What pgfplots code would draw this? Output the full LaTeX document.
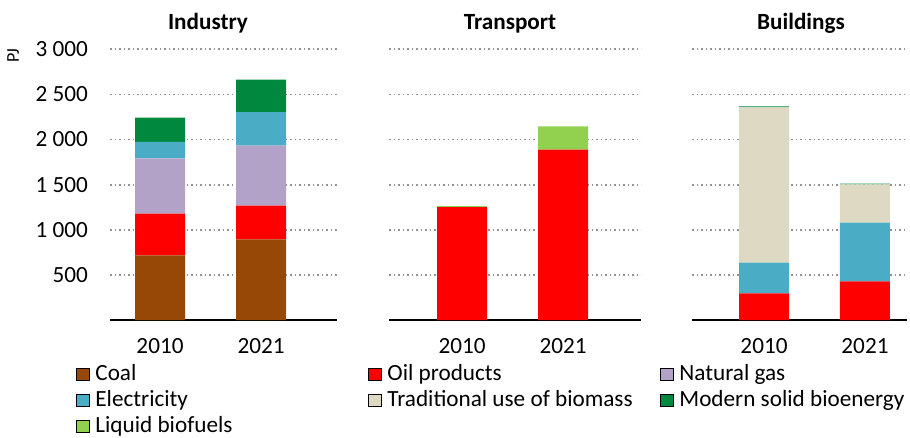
\documentclass[border=0pt]{standalone}
\usepackage{fontspec}
\setmainfont{Carlito}
\usepackage{pgfplots}
\usepackage{pgfplotstable}
\pgfplotsset{compat=1.18}
\definecolor{coalc}{HTML}{974807}
\definecolor{oilc}{HTML}{FF0000}
\definecolor{gasc}{HTML}{B3A2C7}
\definecolor{elecc}{HTML}{4BACC6}
\definecolor{tradc}{HTML}{DDD9C3}
\definecolor{modc}{HTML}{00893E}
\definecolor{liqc}{HTML}{92D050}
\newcommand\chf{\fontsize{23.2}{27}\selectfont}

\pgfplotstableread{
x coal oil gas elec trad modern liquid
0 717 461 614 181 0 269 0
1 894 373 665 373 0 359 0
}\industry
\pgfplotstableread{
x coal oil gas elec trad modern liquid
0 0 1252 0 0 0 0 10
1 0 1888 0 0 0 0 259
}\transport
\pgfplotstableread{
x coal oil gas elec trad modern liquid
0 0 296 0 339 1722 11 0
1 0 429 0 650 425 7 0
}\buildings

\pgfplotsset{
  panel/.style={
    scale only axis, height=270.7pt, ymin=0, ymax=3000,
    ybar stacked, bar width=50pt,
    axis lines*=left, y axis line style={draw=none},
    x axis line style={black, line width=1.2pt},
    major tick length=0pt,
    ytick={500,1000,1500,2000,2500,3000}, ymajorgrids,
    grid style={gray!85, line width=1.8pt, dash pattern=on 1.8pt off 2.7pt},
    xtick={0,1}, xticklabels={2010,2021},
    tick label style={font=\chf},
    /pgf/number format/assume math mode=true,
    /pgf/number format/1000 sep={\ },
    xticklabel style={inner sep=0pt, anchor=north, yshift=-18pt},
    yticklabel style={inner sep=0pt, anchor=east, xshift=-22pt},
    clip=false, anchor=south west,
    legend cell align=left,
    legend image code/.code={\fill[##1] (0pt,-5.5pt) rectangle (13pt,7pt);},
    legend style={anchor=north west, draw=none, fill=none, inner sep=0pt, outer sep=0pt,
      row sep=5.0pt, column sep=6pt, font=\chf,
      nodes={inner sep=0pt, text height=16pt, text depth=5pt}},
  }
}

\begin{document}
\begin{tikzpicture}
\useasboundingbox (0pt,0pt) rectangle (910pt,-438pt);

% Industry
\begin{axis}[panel, at={(110pt,-320pt)}, width=227pt, xmin=-0.495, xmax=1.752,
  legend style={at={(axis description cs:-0.1498,-0.1650)}}]
\addplot[fill=coalc, draw=none, forget plot] table[x=x,y=coal]{\industry};
\addplot[fill=oilc, draw=none, forget plot] table[x=x,y=oil]{\industry};
\addplot[fill=gasc, draw=none, forget plot] table[x=x,y=gas]{\industry};
\addplot[fill=elecc, draw=none, forget plot] table[x=x,y=elec]{\industry};
\addplot[fill=modc, draw=none, forget plot] table[x=x,y=modern]{\industry};
\addlegendimage{fill=coalc}\addlegendentry{Coal}
\addlegendimage{fill=elecc}\addlegendentry{Electricity}
\addlegendimage{fill=liqc}\addlegendentry{Liquid biofuels}
\node[font=\bfseries\chf, anchor=base] at (axis cs:0.475,3000) [yshift=19.3pt] {Industry};
\node[font=\fontsize{18}{22}\selectfont, rotate=90] at (axis description cs:-0.427,0.975) {PJ};
\end{axis}

% Transport
\begin{axis}[panel, at={(389pt,-320pt)}, width=252pt, xmin=-0.723, xmax=1.772,
  yticklabels={},
  legend style={at={(axis description cs:-0.0833,-0.1650)}}]
\addplot[fill=oilc, draw=none, forget plot] table[x=x,y=oil]{\transport};
\addplot[fill=liqc, draw=none, forget plot] table[x=x,y=liquid]{\transport};
\addlegendimage{fill=oilc}\addlegendentry{Oil products}
\addlegendimage{fill=tradc}\addlegendentry{Traditional use of biomass}
\node[font=\bfseries\chf, anchor=base] at (axis cs:0.475,3000) [yshift=19.3pt] {Transport};
\end{axis}

% Buildings
\begin{axis}[panel, at={(692pt,-320pt)}, width=215pt, xmin=-0.713, xmax=1.416,
  yticklabels={},
  legend style={at={(axis description cs:-0.1488,-0.1650)}}]
\addplot[fill=oilc, draw=none, forget plot] table[x=x,y=oil]{\buildings};
\addplot[fill=elecc, draw=none, forget plot] table[x=x,y=elec]{\buildings};
\addplot[fill=tradc, draw=none, forget plot] table[x=x,y=trad]{\buildings};
\addplot[fill=modc, draw=none, forget plot] table[x=x,y=modern]{\buildings};
\addlegendimage{fill=gasc}\addlegendentry{Natural gas}
\addlegendimage{fill=modc}\addlegendentry{Modern solid bioenergy}
\node[font=\bfseries\chf, anchor=base] at (axis cs:0.366,3000) [yshift=19.3pt] {Buildings};
\end{axis}
\end{tikzpicture}
\end{document}
